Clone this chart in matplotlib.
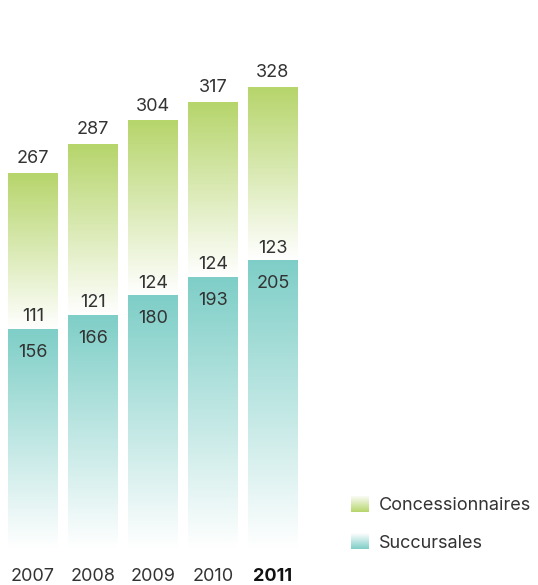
import numpy as np
import matplotlib
matplotlib.use('Agg')
import matplotlib.pyplot as plt
from matplotlib.colors import LinearSegmentedColormap

plt.rcParams['font.family'] = ['Inter', 'DejaVu Sans']

years = ["2007", "2008", "2009", "2010", "2011"]
succursales = [156, 166, 180, 193, 205]
concessionnaires = [111, 121, 124, 124, 123]
series_names = ["Concessionnaires", "Succursales"]

GREEN = "#b6d56b"
TEAL = "#7ecec7"
TEXT = "#333333"
FS = 13

green_cmap = LinearSegmentedColormap.from_list("g", ["#ffffff", GREEN])
teal_cmap = LinearSegmentedColormap.from_list("t", ["#ffffff", TEAL])
grad = np.linspace(0, 1, 256).reshape(-1, 1)


def gradient_bar(ax, x, bottom, top, width, cmap):
    # vertical gradient: coloured at top, white at bottom
    ax.imshow(grad, extent=(x - width / 2, x + width / 2, bottom, top),
              origin='lower', cmap=cmap, aspect='auto', interpolation='bicubic')


fig = plt.figure(figsize=(5.38, 5.85), dpi=100)
ax = fig.add_axes([0, 0, 1, 1])
ax.set_xlim(-0.55, 8.417)
ax.set_ylim(-26.3, 390.0)
ax.axis('off')

width = 50 / 60
for i, yr in enumerate(years):
    s = succursales[i]
    c = concessionnaires[i]
    gradient_bar(ax, i, 0, s, width, teal_cmap)
    gradient_bar(ax, i, s, s + c, width, green_cmap)
    ax.text(i, s + c + 10.5, str(s + c), ha='center', va='center', fontsize=FS, color=TEXT)
    ax.text(i, s + 8.5, str(c), ha='center', va='center', fontsize=FS, color=TEXT)
    ax.text(i, s - 17, str(s), ha='center', va='center', fontsize=FS, color=TEXT)
    last = i == len(years) - 1
    ax.text(i, -20.5, yr, ha='center', va='center', fontsize=FS,
            color='#111111' if last else TEXT, fontweight='bold' if last else 'normal')

# legend
for j, (name, cmap) in enumerate(zip(series_names, [green_cmap, teal_cmap])):
    top_px = 496 + j * 37
    sw = fig.add_axes([351 / 538, 1 - (top_px + 16) / 585, 18 / 538, 16 / 585])
    sw.imshow(grad[::-1], cmap=cmap, aspect='auto', origin='lower')
    sw.axis('off')
    fig.text(379 / 538, 1 - (top_px + 10) / 585, name, ha='left', va='center', fontsize=FS, color=TEXT)

fig.savefig("out.png", dpi=100)
